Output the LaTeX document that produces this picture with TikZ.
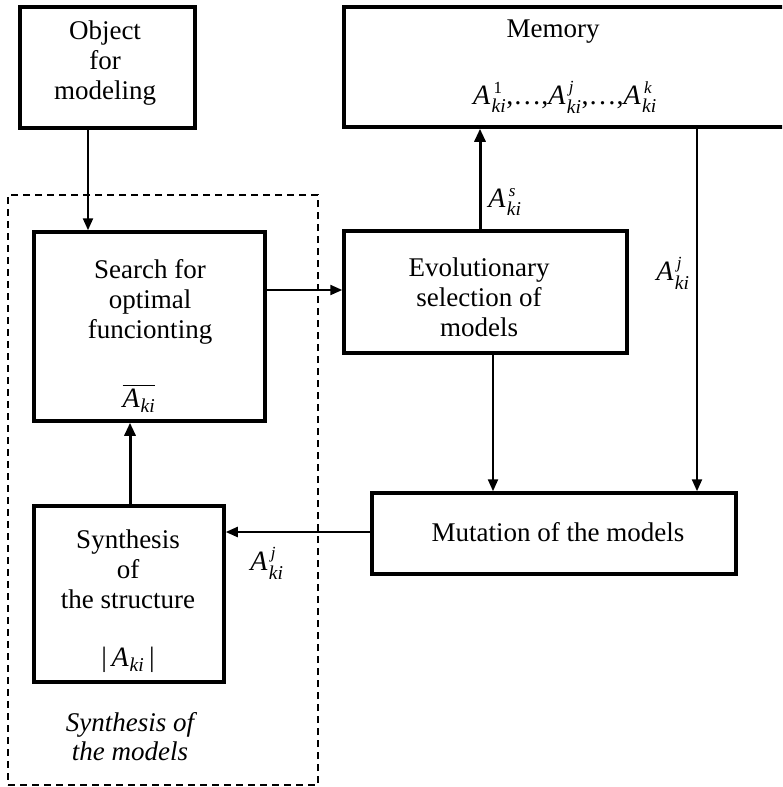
\documentclass[tikz,border=0pt]{standalone}
\usepackage{amsmath}
\usepackage{fontspec}
\setmainfont{Liberation Serif}
\usetikzlibrary{arrows.meta}

% italic A with stacked indices ki
\newcommand\Aki[1]{\ensuremath{\textit{A}\kern1.5pt^{\raisebox{2pt}{\fontsize{17}{17}\selectfont\kern2pt #1}}_{\textit{ki}}}}

\begin{document}
\begin{tikzpicture}[x=1pt,y=-1pt,
  box/.style={draw, line width=3.5pt, inner sep=0pt},
  lbl/.style={font=\fontsize{27}{30}\selectfont, align=center, inner sep=0pt},
  mth/.style={font=\fontsize{28}{30}\selectfont, align=center, inner sep=0pt},
  arr/.style={line width=2.2pt, -{Triangle[length=12pt,width=10pt]}},
  arrb/.style={line width=3pt, -{Triangle[length=13pt,width=11pt]}},
]
\useasboundingbox (0,0) rectangle (782,787);
\clip (0,0) rectangle (782,787);

% group frame
\node[draw, line width=1.8pt, dash pattern=on 7pt off 5pt,
      minimum width=310pt, minimum height=590pt] (grp) at (163,490) {};

% blocks
\node[box, minimum width=175pt, minimum height=121pt] (obj) at (107.5,67.5) {};
\node[box, minimum width=456pt, minimum height=120pt] (mem) at (572,67) {};
\node[box, minimum width=231pt, minimum height=189pt] (search) at (149.5,326.5) {};
\node[box, minimum width=283pt, minimum height=122pt] (evo) at (485.5,292) {};
\node[box, minimum width=364pt, minimum height=81pt] (mut) at (554,533.5) {};
\node[box, minimum width=190pt, minimum height=176pt] (syn) at (129,594) {};

% block texts
\node[lbl] (tobj) at (105,63) {Object\\for\\modeling};
\node[lbl] (tmem) at (553,32) {Memory};
\node[mth] (fmem) at (565,97) {\Aki{\textup{1}},\ldots,\Aki{\textit{j}},\ldots,\Aki{\textit{k}}};
\node[lbl] (tsearch) at (150,302) {Search for\\optimal\\funcionting};
\node[mth] (fsearch) at (139,398) {$\overline{\textit{A}\kern1pt_{\textit{ki}}}$};
\node[lbl] (tevo) at (479,297) {Evolutionary\\selection of\\models};
\node[lbl] (tmut) at (558,532) {Mutation of the models};
\node[lbl] (tsyn) at (128,569) {Synthesis\\of\\the structure};
\node[mth] (fsyn) at (128,660) {\textup{|}\,$\textit{A}\kern1pt_{\textit{ki}}$\,\textup{|}};
\node[lbl, font=\fontsize{27}{29}\selectfont\itshape] (tgrp) at (130,737) {Synthesis of\\the models};

% connector guides
\coordinate (xa) at (88,0);
\coordinate (xb) at (480,0);
\coordinate (xc) at (493,0);
\coordinate (xd) at (697,0);
\coordinate (xe) at (130,0);
\coordinate (ya) at (0,290);
\coordinate (yb) at (0,532);

% connectors
\draw[arr] (obj.south -| xa) -- (search.north -| xa);
\draw[arr] (search.east |- ya) -- (evo.west |- ya);
\draw[arrb] (evo.north -| xb) -- (mem.south -| xb);
\draw[arr] (evo.south -| xc) -- (mut.north -| xc);
\draw[arr] (mem.south -| xd) -- (mut.north -| xd);
\draw[arr] (mut.west |- yb) -- (syn.east |- yb);
\draw[arrb] (syn.north -| xe) -- (search.south -| xe);

% connector labels
\node[mth] (ls) at (505,202) {\Aki{\textit{s}}};
\node[mth] (lj) at (673,273) {\Aki{\textit{j}}};
\node[mth] (lj2) at (267,563) {\Aki{\textit{j}}};
\end{tikzpicture}
\end{document}
